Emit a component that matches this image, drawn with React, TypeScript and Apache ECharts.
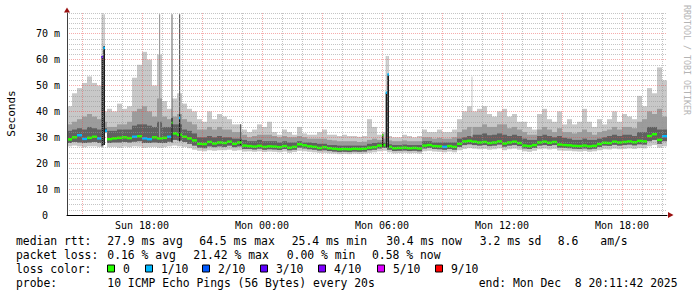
import { useEffect, useRef } from 'react';
import * as echarts from 'echarts';

// Time in minutes since Sunday 00:00. Each smoke column lasts STEP minutes.
const START = 855; // Sun 14:15
const END = 2655; // Mon 20:15
const STEP = 15;

const xLabelTimes = [1080, 1440, 1800, 2160, 2520];
const xLabelTexts = ['Sun 18:00', 'Mon 00:00', 'Mon 06:00', 'Mon 12:00', 'Mon 18:00'];
const yLabelValues = [0, 10, 20, 30, 40, 50, 60, 70];
const yLabelTexts = ['0', '10 m', '20 m', '30 m', '40 m', '50 m', '60 m', '70 m'];

// median rtt (ms) per column
const median = [
  29.2, 30.0, 30.8, 29.4, 29.8, 30.2, 29.6,
  32.5,
  29.3, 29.6, 29.8, 30.0, 29.7, 30.2, 30.4, 29.6, 29.3,
  30.0, 29.6,
  29.8, 30.2, 31.5, 31.0, 30.2,
  29.6, 28.8, 27.5,
  27.4, 28.2, 27.6, 28.0,
  27.8, 28.3, 27.5, 28.0, 26.8,
  26.6, 26.4, 26.7, 26.3, 26.5, 26.4, 26.2, 26.6, 26.0, 26.3,
  27.3, 26.9, 26.5, 26.3, 25.9,
  26.2, 25.8, 25.6, 25.4, 25.5, 25.4, 25.6, 25.5, 25.6,
  26.0, 26.2, 26.8, 27.0,
  26.3, 25.8, 25.9, 26.0, 25.8, 25.9, 25.7,
  26.8, 27.0, 26.6, 26.5, 26.3, 26.6, 26.3,
  27.5, 28.4, 28.6,
  28.3, 28.0, 28.2, 27.8, 28.0, 28.4, 27.6, 28.0, 28.3, 27.8,
  26.8, 26.6, 27.0, 28.0, 28.3, 27.9, 28.2, 27.2, 27.0,
  26.9, 26.7, 26.6, 26.8, 26.5, 26.7, 27.4, 27.9,
  27.8, 28.3, 28.0, 28.2, 28.4, 28.1,
  28.6, 28.4, 30.5, 31.2, 29.0, 30.4,
];

// lost pings out of 10 per column
const loss = [
  0, 0, 1, 1, 0, 0, 1,
  1,
  0, 0, 0, 0, 0, 1, 0, 1, 1,
  0, 0,
  0, 1, 0, 0, 0,
  0, 0, 0,
  0, 0, 0, 0,
  0, 0, 0, 0, 0,
  0, 0, 0, 0, 0, 0, 0, 0, 0, 0,
  0, 0, 0, 0, 0,
  0, 0, 0, 0, 0, 0, 0, 0, 0,
  0, 0, 0, 0,
  0, 0, 0, 0, 0, 0, 0,
  0, 0, 0, 0, 1, 0, 0,
  0, 0, 0,
  0, 0, 0, 0, 0, 0, 0, 0, 0, 0,
  0, 0, 0, 0, 0, 0, 0, 0, 0,
  0, 0, 0, 0, 0, 0, 0, 0,
  0, 0, 0, 0, 0, 0,
  0, 0, 0, 0, 0, 1,
];

// slowest ping (top of the light smoke)
const pingMax = [
  42, 47, 49, 51, 53.5, 51, 50,
  40,
  41, 40, 43, 41, 42, 53, 58, 63, 60,
  50, 62,
  44, 41, 45, 47, 43,
  41, 40, 37,
  36, 40, 37, 39,
  38, 37, 35, 35, 33,
  32, 33, 35, 34, 36, 32, 31, 33, 32, 31,
  34, 31.5, 31, 31, 32,
  33, 31, 31, 30.5, 31, 30.5, 30.5, 30.2, 30.5,
  37, 34, 31, 32,
  30.5, 30, 30, 31, 30.5, 30, 30.5,
  33, 32, 32, 33, 32, 32, 33,
  37, 40, 42,
  40, 41, 42, 39, 38, 40, 41, 38, 39, 36,
  36, 34, 33, 39, 41, 37, 36, 40, 35,
  37, 35, 36, 41, 36, 34, 37, 35,
  37, 40, 36, 39, 38, 37,
  46, 42, 49, 47, 57, 52,
];

// top of the middle smoke band
const pingUpper = [
  35, 36, 37, 38, 39, 38, 37,
  36,
  34, 34, 35, 35, 36, 40, 41, 42, 40,
  38, 45,
  38, 37, 38, 39, 37,
  36, 35, 33,
  33, 34, 33, 34,
  33, 33, 32, 32, 31,
  30, 30.5, 31, 31, 31, 30.5, 30, 30.5, 30, 30,
  30.5, 30, 29.5, 29.5, 29.5,
  29.5, 29, 28.8, 28.5, 28.5, 28.5, 28.5, 28.2, 28.3,
  29, 29.5, 29, 29.5,
  28.8, 28.5, 28.5, 28.8, 28.5, 28.5, 28.5,
  30, 30, 29.5, 29.8, 29.5, 29.5, 30,
  32, 33, 34,
  34, 34, 35, 34, 34, 35, 35, 33.5, 34, 33,
  32, 31, 31, 33, 34, 33, 32, 33.5, 32,
  32, 31.5, 32, 33, 32, 31, 32, 32.5,
  33, 34, 33, 34, 34, 33.5,
  36, 37, 40, 39, 41, 38,
];

// top of the dark smoke band
const pingMid = [
  32.5, 33, 33.5, 33, 34, 33.5, 33,
  33.5,
  32.5, 32.5, 33, 33, 33, 34.5, 35, 35, 34.5,
  34, 36,
  34, 34, 35, 35, 33,
  32.5, 31.5, 30,
  30, 30.5, 30, 30.5,
  30, 30, 29.5, 29.5, 29,
  28.5, 28.5, 29, 28.5, 28.5, 28.5, 28, 28.5, 28, 28,
  28.5, 28, 28, 27.8, 27.5,
  27.5, 27, 27, 26.8, 26.8, 26.8, 26.8, 26.8, 26.8,
  27.5, 27.8, 28, 28,
  27.3, 27, 27, 27.2, 27, 27, 27,
  28.5, 28.5, 28, 28, 28, 28, 28,
  29.5, 30, 30.5,
  31, 31, 31.5, 30.8, 31, 31.5, 31, 30.5, 31, 30.5,
  29.5, 29, 29, 30.5, 31, 30.5, 30, 30.5, 29.8,
  29.5, 29, 29, 29.5, 29, 29, 29.5, 30,
  30.5, 31, 30.5, 31, 31, 30.5,
  32, 32, 34, 34, 33, 33,
];

// bottom of the dark smoke band
const pingLower = [
  27.8, 28.2, 28.0, 27.8, 28.0, 28.2, 27.8,
  32.0,
  27.8, 28.0, 28.0, 28.2, 28.0, 28.3, 28.5, 27.8, 27.8,
  28.0, 27.8,
  27.8, 28.3, 29.0, 28.8, 28.2,
  27.5, 26.8, 26.0,
  25.8, 26.5, 26.2, 26.5,
  26.3, 26.8, 26.2, 26.5, 25.5,
  25.5, 25.3, 25.6, 25.2, 25.4, 25.3, 25.1, 25.5, 25.0, 25.2,
  26.0, 25.7, 25.4, 25.2, 24.9,
  25.0, 24.7, 24.5, 24.3, 24.4, 24.3, 24.5, 24.4, 24.5,
  25.0, 25.2, 25.7, 25.9,
  25.2, 24.7, 24.8, 24.9, 24.7, 24.8, 24.6,
  25.7, 25.9, 25.5, 25.4, 25.2, 25.5, 25.2,
  26.3, 27.0, 27.3,
  27.0, 26.8, 27.0, 26.6, 26.8, 27.2, 26.4, 26.8, 27.0, 26.6,
  25.7, 25.5, 25.9, 26.8, 27.0, 26.7, 27.0, 26.0, 25.9,
  25.8, 25.6, 25.5, 25.7, 25.4, 25.6, 26.3, 26.8,
  26.7, 27.1, 26.8, 27.0, 27.2, 26.9,
  27.3, 27.2, 28.5, 29.0, 27.5, 28.5,
];

// fastest ping (bottom of the smoke)
const pingMin = [
  26.5, 26.8, 26.5, 26.2, 26.5, 26.5, 26.3,
  31.6,
  26.2, 26.3, 26.0, 26.4, 26.2, 26.5, 26.4, 26.0, 26.2,
  26.3, 26.0,
  26.2, 26.5, 26.8, 26.5, 26.3,
  25.8, 25.2, 24.8,
  24.6, 25.0, 24.8, 25.0,
  25.0, 25.2, 24.8, 25.0, 24.5,
  24.6, 24.4, 24.6, 24.3, 24.5, 24.4, 24.2, 24.5, 24.0, 24.3,
  24.8, 24.6, 24.4, 24.2, 24.0,
  24.0, 23.8, 23.7, 23.5, 23.6, 23.5, 23.7, 23.6, 23.7,
  24.0, 24.2, 24.6, 24.8,
  24.2, 23.8, 23.9, 24.0, 23.8, 23.9, 23.7,
  24.6, 24.8, 24.5, 24.4, 24.2, 24.5, 24.2,
  25.0, 25.5, 25.8,
  25.6, 25.4, 25.5, 25.2, 25.4, 25.7, 25.0, 25.4, 25.6, 25.2,
  24.6, 24.4, 24.8, 25.4, 25.6, 25.3, 25.5, 24.9, 24.8,
  24.8, 24.6, 24.5, 24.7, 24.4, 24.6, 25.0, 25.4,
  25.3, 25.6, 25.4, 25.5, 25.7, 25.5,
  25.8, 25.7, 26.5, 27.0, 26.0, 26.5,
];

// short-lived spikes (times in minutes since Sun 00:00)
const spikeStart = [958.5, 963.9, 1131, 1168.5, 1191, 1374, 1800, 1811, 1816, 2068.5];
const spikeEnd = [963.9, 969, 1134.5, 1171.5, 1194.6, 1377, 1803.6, 1816, 1821, 2071.5];
const spikeBase = [26.5, 27, 30, 28, 28.5, 27, 26.5, 26, 26, 30];
const spikeTop = [77.5, 77.5, 77.5, 77.5, 77.5, 35, 31.2, 61.4, 61.4, 53.5];
const spikeTopShade = [0, 0, 1, 2, 2, 2, 3, 0, 0, 0];
const spikeCore = [61.4, 65.2, 0, 37.5, 38.8, 29, 31.2, 47.2, 54.3, 0];
const spikeMedian = [61, 64.5, 0, 35.6, 37.5, 28, 30.8, 47.2, 54.3, 0];
const spikeLoss = [3, 1, 0, 0, 1, 0, 0, 1, 1, 0];

const lossLevels = [0, 1, 2, 3, 4, 5, 9];
const lossLabels = ['0', '1/10', '2/10', '3/10', '4/10', '5/10', '9/10'];
const lossColors = ['#26ff00', '#00b8ff', '#0059ff', '#5e00ff', '#7e00ff', '#dd00ff', '#ff0000'];

const rttLabel = 'median rtt:';
const rttStats = ['27.9 ms avg', '64.5 ms max', '25.4 ms min', '30.4 ms now', '3.2 ms sd', '8.6', 'am/s'];
const lossLabel = 'packet loss:';
const lossStats = ['0.16 % avg', '21.42 % max', '0.00 % min', '0.58 % now'];
const colorLabel = 'loss color:';
const probeLabel = 'probe:';
const probeText = '10 ICMP Echo Pings (56 Bytes) every 20s';
const endText = 'end: Mon Dec  8 20:11:42 2025';
const yTitle = 'Seconds';
const watermark = 'RRDTOOL / TOBI OETIKER';

const MONO = "'DejaVu Sans Mono', 'Liberation Mono', monospace";
const SHADES = ['#c8c8c8', '#9c9c9c', '#606060', '#1c1c1c'];
const MINOR = 'rgba(150,150,150,0.55)';
const MAJOR = 'rgba(235,70,70,0.45)';

const lossColor = (l: number) => {
  const idx = lossLevels.indexOf(l);
  return idx >= 0 ? lossColors[idx] : lossColors[lossColors.length - 1];
};

export default function App() {
  const ref = useRef<HTMLDivElement>(null);

  useEffect(() => {
    if (!ref.current) return;
    const chart = echarts.init(ref.current, null, { renderer: 'svg', width: 697, height: 297 });

    const colData = median.map((m, i) => [
      START + i * STEP, pingMin[i], pingLower[i], pingMid[i], pingUpper[i], pingMax[i], m, loss[i],
    ]);
    const spikeData = spikeStart.map((s, i) => [
      s, spikeEnd[i], spikeBase[i], spikeTop[i], spikeTopShade[i], spikeCore[i], spikeMedian[i], spikeLoss[i],
    ]);

    const xColors: string[] = [];
    for (let k = 0; k < 12; k++) {
      xColors.push(k === 3 ? MAJOR : k === 7 || k === 11 ? MINOR : 'rgba(0,0,0,0)');
    }
    const yColors = [MAJOR, MINOR, MINOR, MINOR, MINOR];

    const rectBetween = (api: any, t0: number, t1: number, a: number, b: number, fill: string) => {
      const p0 = api.coord([t0, b]);
      const p1 = api.coord([t1, a]);
      return {
        type: 'rect',
        shape: { x: p0[0], y: p0[1], width: p1[0] - p0[0], height: p1[1] - p0[1] },
        style: { fill },
      };
    };
    const medianMark = (api: any, t0: number, t1: number, m: number, l: number) => {
      const p0 = api.coord([t0, m]);
      const p1 = api.coord([t1, m]);
      return {
        type: 'rect',
        shape: { x: p0[0], y: p0[1] - 1.25, width: p1[0] - p0[0], height: 2.5 },
        style: { fill: lossColor(l) },
      };
    };

    const legendRows = [241, 255.3, 268.5, 283.3];
    const rttX = [107.3, 199.3, 291.7, 386.3, 479.7, 557.7, 600.3];
    const lossX = [107.3, 193.3, 286.7, 372];
    const squareX = [107.5, 145.5, 202.5, 260.5, 318.5, 377.5, 435.5];
    const text = (x: number, y: number, s: string, extra: any = {}) => ({
      type: 'text',
      x,
      y,
      silent: true,
      style: {
        text: s,
        fontFamily: MONO,
        fontSize: 11.4,
        fill: '#000',
        align: 'left',
        verticalAlign: 'middle',
        ...extra,
      },
    });

    const graphic: any[] = [];
    graphic.push(text(16, legendRows[0], rttLabel));
    rttStats.forEach((s, i) => graphic.push(text(rttX[i], legendRows[0], s)));
    graphic.push(text(16, legendRows[1], lossLabel));
    lossStats.forEach((s, i) => graphic.push(text(lossX[i], legendRows[1], s)));
    graphic.push(text(16, legendRows[2], colorLabel));
    lossLabels.forEach((s, i) => {
      graphic.push({
        type: 'rect',
        silent: true,
        shape: { x: squareX[i], y: legendRows[2] - 3.5, width: 7, height: 7 },
        style: { fill: lossColors[i], stroke: '#000', lineWidth: 1 },
      });
      graphic.push(text(squareX[i] + 15.5, legendRows[2], s));
    });
    graphic.push(text(16, legendRows[3], probeLabel));
    graphic.push(text(107.3, legendRows[3], probeText));
    graphic.push(text(478.7, legendRows[3], endText));
    graphic.push({
      type: 'text',
      x: 11,
      y: 113.5,
      rotation: Math.PI / 2,
      silent: true,
      style: { text: yTitle, fontFamily: MONO, fontSize: 11, fill: '#000', align: 'center', verticalAlign: 'middle' },
    });
    graphic.push({
      type: 'text',
      x: 687,
      y: 5,
      rotation: -Math.PI / 2,
      silent: true,
      style: { text: watermark, fontFamily: MONO, fontSize: 8.3, fill: '#b4b4b4', align: 'left', verticalAlign: 'middle' },
    });
    graphic.push({
      type: 'polygon',
      silent: true,
      shape: { points: [[64, 12.5], [70, 12.5], [67, 7.5]] },
      style: { fill: '#9a1010' },
    });
    graphic.push({
      type: 'polygon',
      silent: true,
      shape: { points: [[668, 212], [668, 218], [673.5, 215]] },
      style: { fill: '#9a1010' },
    });

    const option: any = {
      animation: false,
      backgroundColor: '#ffffff',
      grid: { left: 67, top: 13, width: 600, height: 202, show: false },
      xAxis: {
        type: 'value',
        min: START,
        max: END,
        interval: STEP,
        z: 5,
        axisLine: { show: true, onZero: false, lineStyle: { color: '#000', width: 1 } },
        axisTick: { show: false },
        splitLine: { show: true, lineStyle: { color: xColors, type: [1, 1], width: 1 } },
        axisLabel: {
          show: true,
          hideOverlap: false,
          fontFamily: MONO,
          fontSize: 10,
          color: '#000',
          margin: 5,
          formatter: (v: number) => {
            const k = xLabelTimes.indexOf(Math.round(v));
            return k >= 0 ? xLabelTexts[k] : '';
          },
        },
      },
      yAxis: {
        type: 'value',
        min: 0,
        max: 78,
        interval: 2,
        z: 5,
        axisLine: { show: true, lineStyle: { color: '#404040', width: 1 } },
        axisTick: { show: false },
        splitLine: { show: true, lineStyle: { color: yColors, type: [1, 1], width: 1 } },
        axisLabel: {
          show: true,
          hideOverlap: false,
          fontFamily: MONO,
          fontSize: 10,
          color: '#000',
          margin: 7,
          formatter: (v: number) => {
            const k = yLabelValues.indexOf(Math.round(v));
            if (k < 0) return '';
            return yLabelValues[k] === 0 ? '{z|' + yLabelTexts[k] + '}' : yLabelTexts[k];
          },
          rich: {
            z: { fontFamily: MONO, fontSize: 10, color: '#000', padding: [0, 12, 0, 0] },
          },
        },
      },
      series: [
        {
          type: 'custom',
          name: 'smoke',
          silent: true,
          encode: { x: 0, y: 5 },
          data: colData,
          renderItem: (_p: any, api: any) => {
            const t0 = api.value(0) as number;
            const t1 = t0 + STEP;
            const lo = api.value(1) as number;
            const dl = api.value(2) as number;
            const dk = api.value(3) as number;
            const up = api.value(4) as number;
            const hi = api.value(5) as number;
            const m = api.value(6) as number;
            const l = api.value(7) as number;
            return {
              type: 'group',
              children: [
                rectBetween(api, t0, t1, lo, hi, SHADES[0]),
                rectBetween(api, t0, t1, dl, up, SHADES[1]),
                rectBetween(api, t0, t1, dl, dk, SHADES[2]),
                medianMark(api, t0, t1, m, l),
              ],
            };
          },
        },
        {
          type: 'custom',
          name: 'spikes',
          silent: true,
          encode: { x: 0, y: 3 },
          data: spikeData,
          renderItem: (_p: any, api: any) => {
            const t0 = api.value(0) as number;
            const t1 = api.value(1) as number;
            const base = api.value(2) as number;
            const top = api.value(3) as number;
            const shade = api.value(4) as number;
            const core = api.value(5) as number;
            const m = api.value(6) as number;
            const l = api.value(7) as number;
            const children: any[] = [rectBetween(api, t0, t1, base, top, SHADES[shade])];
            if (core > 0) children.push(rectBetween(api, t0, t1, base, core, SHADES[3]));
            if (m > 0) children.push(medianMark(api, t0, t1, m, l));
            return { type: 'group', children };
          },
        },
      ],
      graphic,
    };

    chart.setOption(option);
    return () => chart.dispose();
  }, []);

  return (
    <div
      ref={ref}
      style={{ position: 'fixed', left: 0, top: 0, width: 697, height: 297, background: '#ffffff' }}
    />
  );
}
